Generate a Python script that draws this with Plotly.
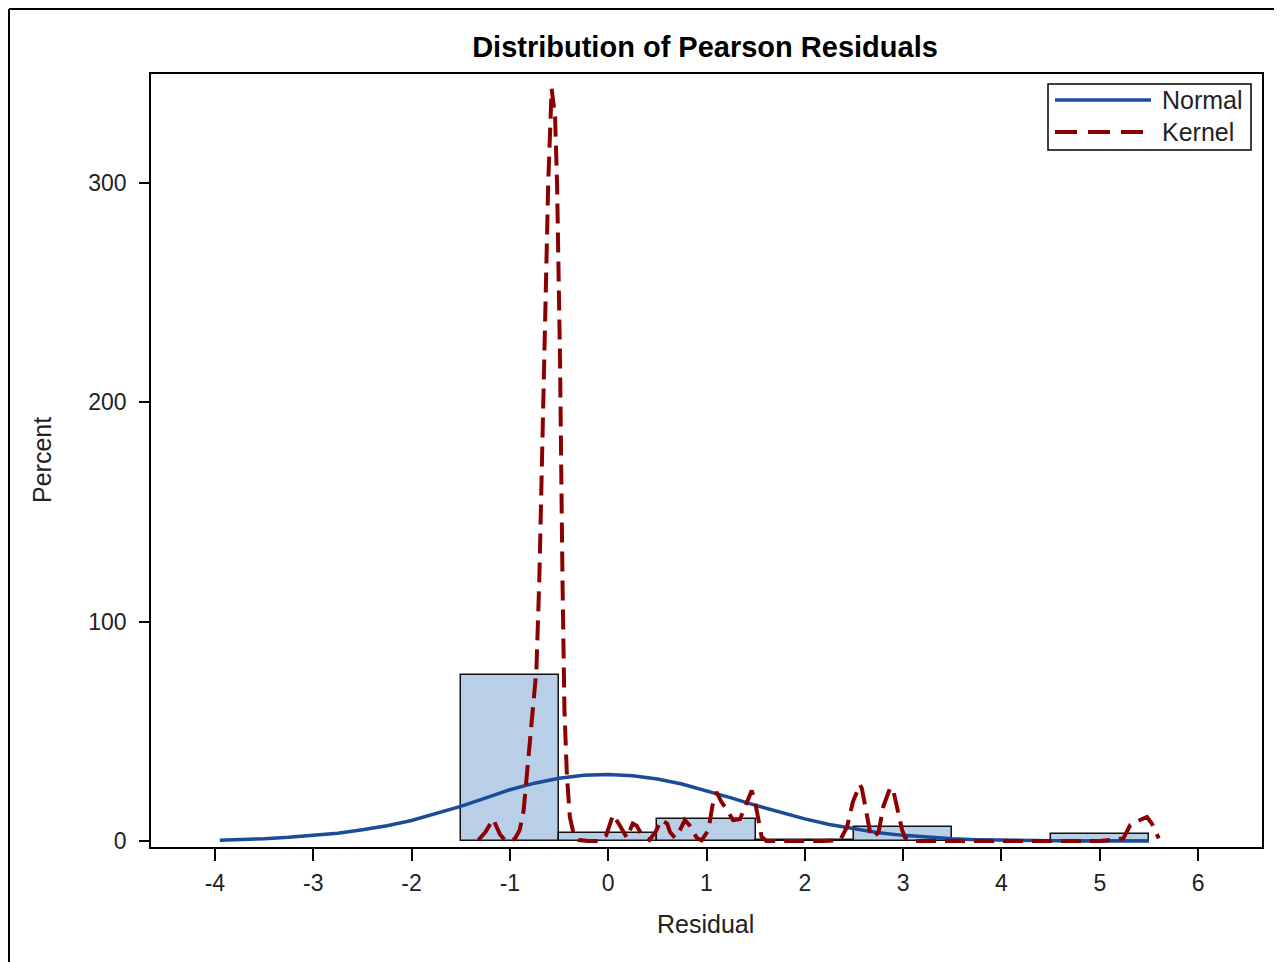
import plotly.graph_objects as go

# ---------------- data ----------------
bin_centers = [-1, 0, 1, 2, 3, 4, 5]
bin_percent = [75.7, 3.6, 10.0, 0.6, 6.3, 0.0, 3.1]

normal_x = [-3.95, -3.75, -3.5, -3.25, -3.0, -2.75, -2.5, -2.25, -2.0, -1.75, -1.5,
            -1.25, -1.0, -0.75, -0.5, -0.25, 0.0, 0.25, 0.5, 0.75, 1.0, 1.25, 1.5,
            1.75, 2.0, 2.25, 2.5, 2.75, 3.0, 3.25, 3.5, 3.75, 4.0, 4.25, 4.5, 4.75,
            5.0, 5.25, 5.5]
normal_y = [0.42, 0.64, 1.05, 1.7, 2.5, 3.6, 5.2, 7.0, 9.4, 12.4, 15.8,
            19.6, 23.4, 26.4, 28.6, 30.0, 30.3, 29.8, 28.3, 26.0, 23.0, 19.7, 16.3,
            13.1, 10.1, 7.6, 5.5, 3.8, 2.6, 1.7, 1.05, 0.64, 0.38, 0.21, 0.12, 0.06,
            0.03, 0.015, 0.007]

kernel_x = [-1.32, -1.25, -1.17, -1.10, -1.05, -1.0, -0.95, -0.9, -0.86, -0.83, -0.78,
            -0.73, -0.70, -0.66, -0.61, -0.575, -0.54, -0.52, -0.49, -0.465, -0.445,
            -0.42, -0.39, -0.35, -0.30, -0.2, -0.1, -0.02, 0.05, 0.12, 0.19, 0.25,
            0.29, 0.34, 0.42, 0.48, 0.54, 0.60, 0.63, 0.68, 0.73, 0.78, 0.83, 0.90,
            0.95, 1.02, 1.06, 1.10, 1.15, 1.21, 1.27, 1.34, 1.41, 1.46, 1.49, 1.53,
            1.56, 1.61, 1.8, 2.0, 2.2, 2.36, 2.43, 2.49, 2.56, 2.58, 2.63, 2.66, 2.69,
            2.75, 2.80, 2.87, 2.90, 2.95, 2.99, 3.02, 3.07, 3.5, 4.0, 4.5, 5.0, 5.24,
            5.31, 5.41, 5.48, 5.53, 5.60]
kernel_y = [0.5, 4, 10, 3, 0.5, 0, 1, 5, 14, 28, 50,
            78, 120, 200, 300, 343, 330, 300, 220, 120, 60,
            30, 11, 3, 0.5, 0, 0, 2.7, 12, 7, 1.5, 8,
            7, 3, 0.5, 4, 9.6, 8, 4, 1.5, 5, 9.6, 7, 1.5,
            0.3, 5, 16, 22.4, 18, 14, 9.6, 10, 17, 23, 19, 9,
            2, 0, 0, 0, 0, 0.5, 6.5, 18, 25.8, 24, 11, 5, 1.5,
            4, 16, 24.5, 23, 13, 5, 1.5, 0, 0, 0, 0, 0, 1.2,
            7.3, 9.6, 11, 8, 1.2]

x_ticks = [-4, -3, -2, -1, 0, 1, 2, 3, 4, 5, 6]
y_ticks = [0, 100, 200, 300]
legend_names = ["Normal", "Kernel"]

# ---------------- styling ----------------
FONT = "Liberation Sans, Arial, sans-serif"
BLUE = "#1C4C97"
RED = "#8B0000"
FILL = "#B9CFE7"
OFF = 8  # page body margin
W, H = 1282 - OFF, 962 - OFF
ML, MT = 151 - OFF, 74 - OFF
PR, PB = 1262 - OFF, 847 - OFF
MR, MB = W - PR, H - PB
PW, PH = PR - ML, PB - MT


def px(xp):  # page pixel -> paper x
    return (xp - OFF - ML) / PW


def py(yp):  # page pixel -> paper y
    return (PB - (yp - OFF)) / PH


fig = go.Figure()
fig.add_trace(go.Bar(x=bin_centers, y=bin_percent, width=1.0,
                     marker=dict(color=FILL, line=dict(color="#111111", width=1.5)),
                     showlegend=False, name="Histogram"))
fig.add_trace(go.Scatter(x=normal_x, y=normal_y, mode="lines", name=legend_names[0],
                         line=dict(color=BLUE, width=3.5), showlegend=False))
fig.add_trace(go.Scatter(x=kernel_x, y=kernel_y, mode="lines", name=legend_names[1],
                         line=dict(color=RED, width=4, dash="20px,9px"),
                         showlegend=False))

shapes = [
    # outer border (left and top edges)
    dict(type="line", xref="paper", yref="paper", x0=px(9), x1=px(9), y0=py(9), y1=py(975),
         line=dict(color="#000000", width=2)),
    dict(type="line", xref="paper", yref="paper", x0=px(9), x1=px(1295), y0=py(9), y1=py(9),
         line=dict(color="#000000", width=2)),
    # legend box
    dict(type="rect", xref="paper", yref="paper", x0=px(1048), x1=px(1251), y0=py(150), y1=py(84),
         line=dict(color="#000000", width=1.5), fillcolor="white"),
    dict(type="line", xref="paper", yref="paper", x0=px(1055), x1=px(1151), y0=py(100), y1=py(100),
         line=dict(color=BLUE, width=3.5)),
    dict(type="line", xref="paper", yref="paper", x0=px(1055), x1=px(1151), y0=py(132), y1=py(132),
         line=dict(color=RED, width=4, dash="22px,11px")),
]

TXT = dict(family=FONT, size=25, color="#222")
annotations = [
    dict(text=legend_names[0], xref="paper", yref="paper", x=px(1160), y=py(100),
         xanchor="left", yanchor="middle", showarrow=False, font=TXT),
    dict(text=legend_names[1], xref="paper", yref="paper", x=px(1160), y=py(132),
         xanchor="left", yanchor="middle", showarrow=False, font=TXT),
    dict(text="Residual", xref="paper", yref="paper", x=px(705), y=py(924),
         xanchor="center", yanchor="middle", showarrow=False, font=TXT),
    dict(text="Percent", xref="paper", yref="paper", x=px(42), y=py(460), textangle=-90,
         xanchor="center", yanchor="middle", showarrow=False, font=TXT),
]

fig.update_layout(
    width=W, height=H,
    margin=dict(l=ML, r=MR, t=MT, b=MB, pad=0),
    paper_bgcolor="white", plot_bgcolor="white",
    bargap=0,
    title=dict(text="<b>Distribution of Pearson Residuals</b>", xref="paper", x=px(705),
               xanchor="center", yref="container", y=1 - (47 - OFF) / H, yanchor="middle",
               font=dict(family=FONT, size=29, color="#000")),
    shapes=shapes, annotations=annotations,
    showlegend=False,
)
fig.update_xaxes(range=[-4.65, 6.65], tickvals=x_ticks, ticktext=[str(v) for v in x_ticks],
                 showgrid=False, zeroline=False, showline=True, linecolor="#000", linewidth=1.5,
                 mirror=True, ticks="outside", ticklen=12, tickwidth=1.5, tickcolor="#000",
                 ticklabelstandoff=3,
                 tickfont=dict(family=FONT, size=23, color="#222"))
fig.update_yaxes(range=[-2.7, 349.7], tickvals=y_ticks, ticktext=[str(v) for v in y_ticks],
                 showgrid=False, zeroline=False, showline=True, linecolor="#000", linewidth=1.5,
                 mirror=True, ticks="outside", ticklen=10, tickwidth=1.5, tickcolor="#000",
                 ticklabelstandoff=8,
                 tickfont=dict(family=FONT, size=23, color="#222"))

fig.write_html("out.html")
